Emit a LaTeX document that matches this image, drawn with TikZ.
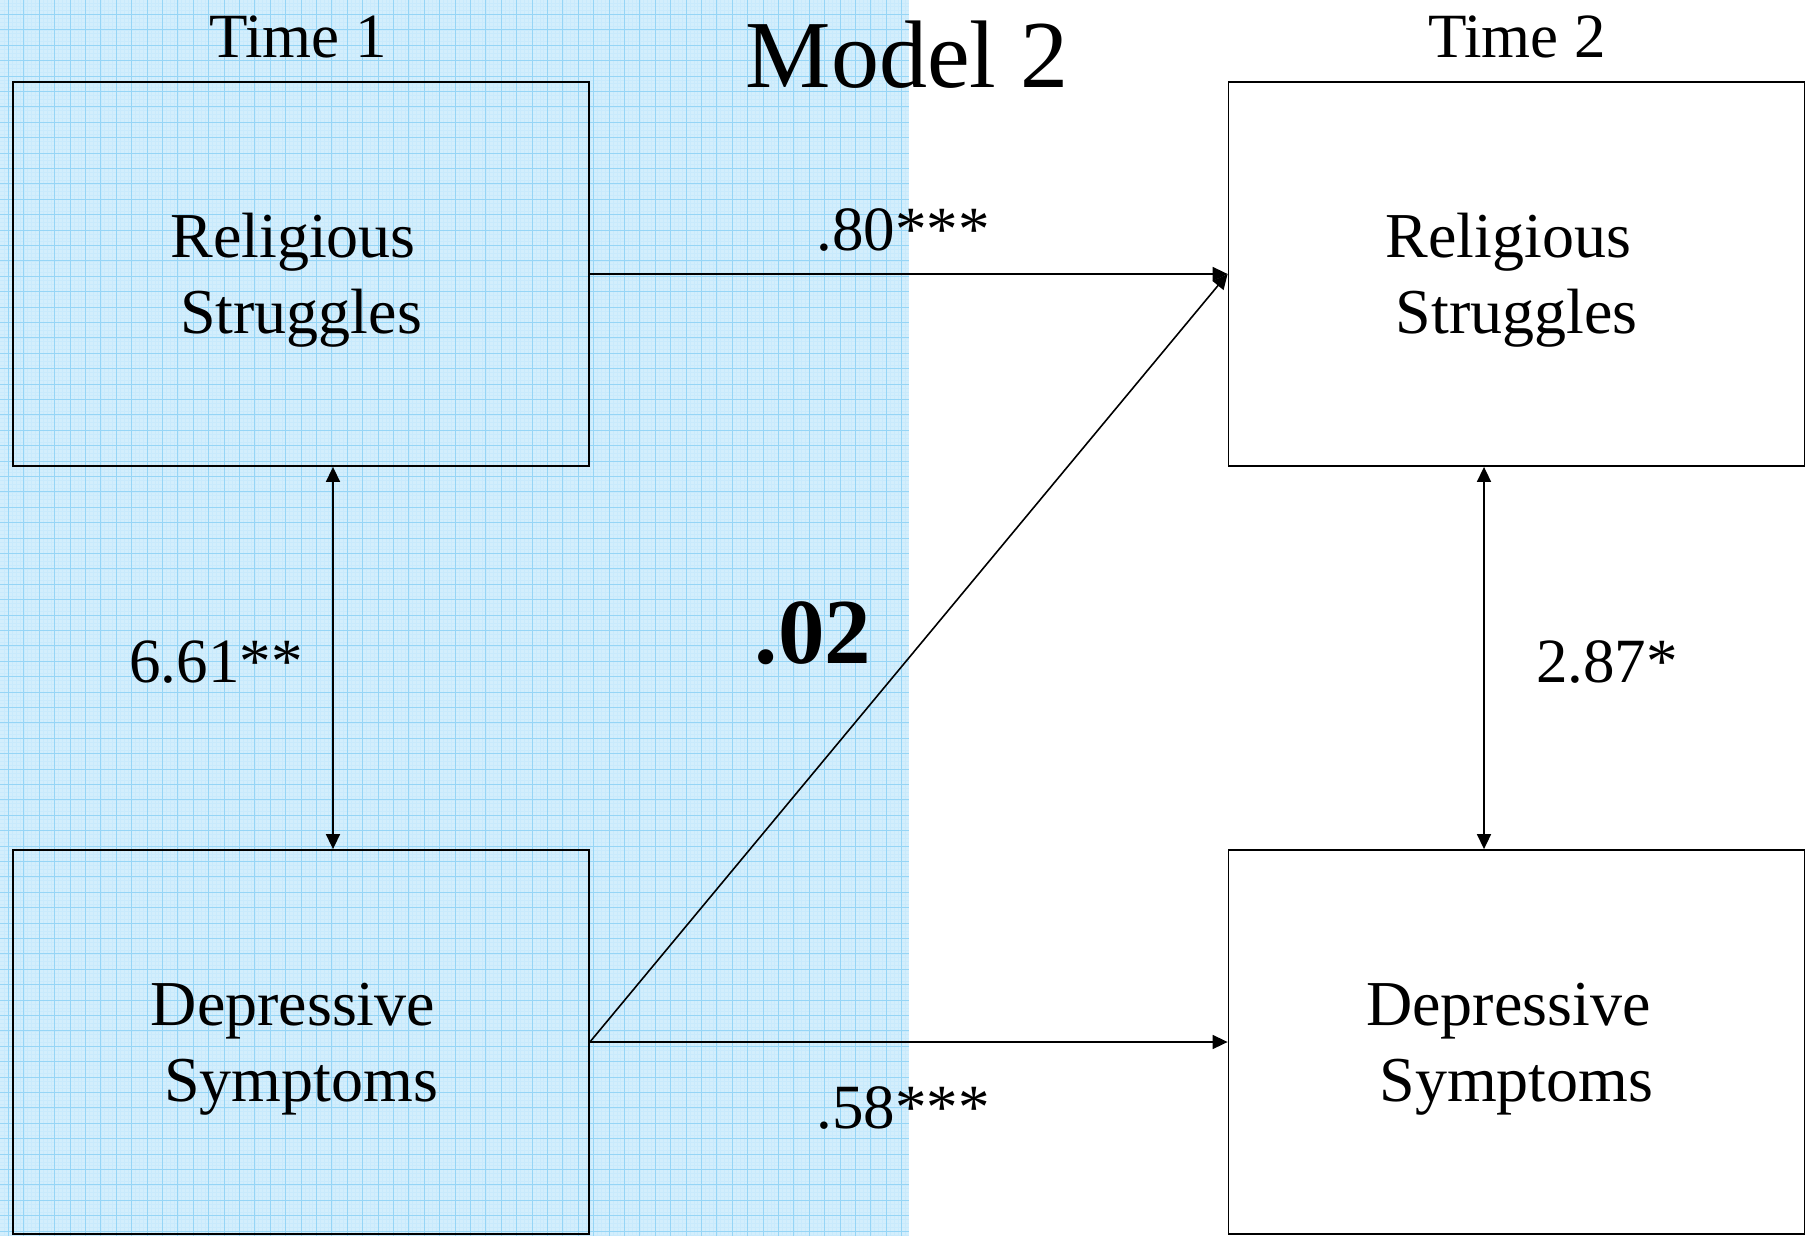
\documentclass[tikz,border=0pt]{standalone}
\usepackage{fontspec}
\setmainfont{Liberation Serif}
\usetikzlibrary{arrows.meta}

\definecolor{gridfill}{RGB}{211,238,252}
\definecolor{gridmajor}{RGB}{150,213,246}
\definecolor{gridminor}{RGB}{201,234,252}

% first line of a box is pushed down a little, and ends in a space
\newcommand{\firstline}{\rule{0pt}{56pt}}
\newcommand{\trailspace}{\kern16pt}

\begin{document}
\begin{tikzpicture}[
    x=1pt, y=-1pt,
    box/.style={
        draw,
        line width=1.8pt,
        minimum width=576pt,
        minimum height=384pt,
        inner sep=0pt,
        align=center,
        font=\fontsize{64}{76}\selectfont
    },
    label/.style={
        inner sep=0pt,
        anchor=base,
        font=\fontsize{63}{74}\selectfont
    },
    arrow/.style={
        -{Triangle[length=15pt,width=14pt]},
        line width=1.6pt
    },
    dblarrow/.style={
        {Triangle[length=15pt,width=14pt]}-{Triangle[length=15pt,width=14pt]},
        line width=1.6pt
    }
]

\useasboundingbox (0,0) rectangle (1807,1236);

% shaded grid on the left
\fill[gridfill] (0,0) rectangle (909,1236);
\foreach \gx in {4.55,8.4,...,909}
    \draw[gridminor, line width=0.4pt] (\gx,0) -- (\gx,1236);
\foreach \gy in {2.85,6.7,...,1236}
    \draw[gridminor, line width=0.4pt] (0,\gy) -- (909,\gy);
\foreach \gx in {8.4,23.8,...,909}
    \draw[gridmajor, line width=0.9pt] (\gx,0) -- (\gx,1236);
\foreach \gy in {14.4,29.8,...,1236}
    \draw[gridmajor, line width=0.9pt] (0,\gy) -- (909,\gy);

\node[box] (rs1) at (301,274) {\firstline Religious\trailspace\\Struggles};

\node[box] (ds1) at (301,1042) {\firstline Depressive\trailspace\\Symptoms};

\node[box] (rs2) at (1516.5,274) {\firstline Religious\trailspace\\Struggles};

\node[box] (ds2) at (1516.5,1042) {\firstline Depressive\trailspace\\Symptoms};

\node[label] (time1) at (298,58) {Time 1};
\node[label] (time2) at (1517,58) {Time 2};
\node[label, font=\fontsize{96}{110}\selectfont] (model) at (907,88) {Model 2};

\draw[arrow] (rs1.east) -- (rs2.west);

\draw[arrow] (ds1.east) -- (ds2.west);

\draw[arrow] (ds1.east) -- (rs2.west);

\draw[dblarrow] ([xshift=32pt]rs1.south) -- ([xshift=32pt]ds1.north);

\draw[dblarrow] ([xshift=-32.5pt]rs2.south) -- ([xshift=-32.5pt]ds2.north);

\node[label] (c80) at (903,250) {.80***};
\node[label] (c58) at (903,1128) {.58***};
\node[label] (c661) at (216,682) {6.61**};
\node[label] (c287) at (1607,682) {2.87*};
\node[label, font=\fontsize{93}{100}\selectfont\bfseries] (c02) at (813,663) {.02};

\end{tikzpicture}
\end{document}
